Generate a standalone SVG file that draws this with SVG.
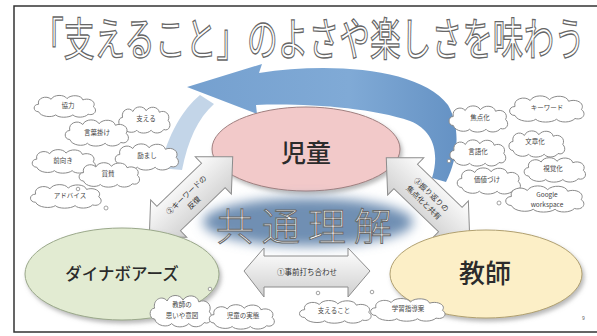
<svg xmlns="http://www.w3.org/2000/svg" xmlns:xlink="http://www.w3.org/1999/xlink" width="597" height="336" viewBox="0 0 597 336">
<style>
.ct{font-family:"Noto Sans CJK JP","Noto Sans",sans-serif;font-size:6.5px;fill:#444;text-anchor:middle}
.big{font-family:"Noto Sans CJK JP","Noto Sans",sans-serif;fill:#2b2b2b;text-anchor:middle;font-weight:500}
.arr{fill:url(#gArr);stroke:#8c8c8c;stroke-width:1}
.at{font-family:"Noto Sans CJK JP","Noto Sans",sans-serif;font-size:7.5px;fill:#333;text-anchor:middle}
.tail{fill:#fff;stroke:#8a8a8a;stroke-width:0.8}
</style>
<defs>
<symbol id="cloud" viewBox="0 0 100 40" preserveAspectRatio="none">
<path vector-effect="non-scaling-stroke" d="M10,30 C1,30 1,18 10,18 C7,8 22,3 29,10 C33,2 49,2 53,9 C59,2 75,3 77,11 C87,7 98,14 93,22 C100,27 95,37 85,34 C80,40 66,40 62,35 C56,40 40,40 36,35 C30,40 13,38 10,30 Z" style="fill:#fff;stroke:#8a8a8a;stroke-width:1"/>
</symbol>
<linearGradient id="gArr" x1="0" y1="0" x2="0" y2="1">
<stop offset="0" stop-color="#ffffff"/>
<stop offset="1" stop-color="#cfcfcf"/>
</linearGradient>
<linearGradient id="gBlue" x1="0" y1="0" x2="1" y2="0">
<stop offset="0" stop-color="#75a0cf"/>
<stop offset="0.6" stop-color="#80aad6"/>
<stop offset="1" stop-color="#6592c4"/>
</linearGradient>
<filter id="shadow" x="-10%" y="-10%" width="125%" height="130%">
<feDropShadow dx="2" dy="3" stdDeviation="2" flood-color="#888" flood-opacity="0.6"/>
</filter>
<filter id="blur" x="-20%" y="-50%" width="140%" height="200%">
<feGaussianBlur stdDeviation="6"/>
</filter>
</defs>

<rect width="597" height="336" fill="#fff"/>
<path d="M597,6 H14 V332 H597" fill="none" stroke="#333" stroke-width="1.5"/>

<g id="title">
<text transform="translate(33,56) scale(1,1.6)" textLength="552" lengthAdjust="spacingAndGlyphs" font-family="'Noto Sans CJK JP',sans-serif" font-size="28.5" fill="#fff" stroke="#666" stroke-width="0.8">「支えること」のよさや楽しさを味わう</text>
</g>

<g id="cycle">
<path d="M200,95 C182,110 168,135 160,168 L182,170 C188,140 198,118 214,104 Z" fill="#b4cbe2" opacity="0.8"/>
<path d="M187,87 L262,64 L259,73 C330,62 420,68 448,105 C462,130 457,160 446,182 L432,178 C440,152 433,130 410,121 C370,107 300,103 256,105 L257,114 Z" fill="url(#gBlue)"/>
</g>

<g id="clouds-left">
<use href="#cloud" x="32" y="93" width="66" height="25"/><text class="ct" x="68" y="108">協力</text>
<use href="#cloud" x="117" y="104" width="55" height="30"/><text class="ct" x="146" y="121">支える</text>
<use href="#cloud" x="63" y="117" width="68" height="30"/><text class="ct" x="97" y="135">言葉掛け</text>
<use href="#cloud" x="113" y="141" width="68" height="30"/><text class="ct" x="147" y="158">励まし</text>
<use href="#cloud" x="30" y="147" width="68" height="27"/><text class="ct" x="63" y="163">前向き</text>
<use href="#cloud" x="77" y="160" width="65" height="28"/><text class="ct" x="108" y="176">賞賛</text>
<use href="#cloud" x="28" y="182" width="76" height="27"/><text class="ct" x="70" y="198">アドバイス</text>
<circle class="tail" cx="106" cy="208" r="2"/>
<circle class="tail" cx="78" cy="189" r="1.8"/>
</g>

<g id="clouds-right">
<use href="#cloud" x="507" y="93" width="80" height="30"/><text class="ct" x="547" y="110">キーワード</text>
<use href="#cloud" x="447" y="103" width="63" height="30"/><text class="ct" x="480" y="120">焦点化</text>
<use href="#cloud" x="507" y="128" width="60" height="30"/><text class="ct" x="535" y="144">文章化</text>
<use href="#cloud" x="448" y="137" width="60" height="30"/><text class="ct" x="478" y="154">言語化</text>
<use href="#cloud" x="522" y="155" width="66" height="28"/><text class="ct" x="553" y="171">視覚化</text>
<use href="#cloud" x="455" y="165" width="68" height="30"/><text class="ct" x="487" y="182">価値づけ</text>
<use href="#cloud" x="503" y="183" width="84" height="30"/><text class="ct" x="547" y="197">Google</text><text class="ct" x="547" y="207">workspace</text>
<circle class="tail" cx="499" cy="203" r="2"/>
<circle class="tail" cx="449" cy="161" r="1.8"/>
</g>

<g id="node-jido">
<ellipse cx="306" cy="149" rx="94" ry="42" fill="#f2c9c9" stroke="#a08080" stroke-width="1" filter="url(#shadow)"/>
<text class="big" x="306" y="162" font-size="25">児童</text>
</g>

<g id="glow">
<ellipse cx="308" cy="222" rx="105" ry="24" fill="#6f8fb3" filter="url(#blur)"/>
</g>

<g id="connectors">
<g transform="translate(191,197) rotate(-44)">
<polygon class="arr" points="-58,0 -31,-26 -31,-17 31,-17 31,-26 58,0 31,26 31,17 -31,17 -31,26"/>
<text class="at" x="-2" y="-2">②キーワードの</text>
<text class="at" x="-2" y="9">反復</text>
</g>
<g transform="translate(428,198) rotate(44)">
<polygon class="arr" points="-58,0 -31,-26 -31,-17 31,-17 31,-26 58,0 31,26 31,17 -31,17 -31,26"/>
<text class="at" x="0" y="-2">③振り返りの</text>
<text class="at" x="0" y="9">焦点化と共有</text>
</g>
</g>

<g id="node-dyna">
<ellipse cx="122" cy="274" rx="97" ry="46" fill="#e2ebd2" stroke="#9aa88a" stroke-width="1" filter="url(#shadow)"/>
<text class="big" x="122" y="280" font-size="16.5">ダイナボアーズ</text>
</g>

<g id="node-kyoshi">
<ellipse cx="486" cy="274" rx="96" ry="44" fill="#fcefc7" stroke="#b0a070" stroke-width="1" filter="url(#shadow)"/>
<text class="big" x="485" y="283" font-size="26">教師</text>
</g>

<g id="connector-bottom">
<polygon class="arr" points="244,271 264,248 264,256 348,256 348,248 370,271 348,297 348,287 264,287 264,297"/>
<text class="at" x="307" y="275">①事前打ち合わせ</text>
</g>

<g id="kyotsu">
<text x="308" y="240" text-anchor="middle" font-family="'Noto Sans CJK JP','Noto Sans',sans-serif" font-size="38" font-weight="300" letter-spacing="8" fill="#fff" stroke="#6a6a6a" stroke-width="1">共通理解</text>
</g>

<g id="clouds-bottom">
<use href="#cloud" x="148" y="292" width="66" height="36"/><text class="ct" x="182" y="307">教師の</text><text class="ct" x="182" y="318">思いや意図</text>
<use href="#cloud" x="207" y="302" width="70" height="28"/><text class="ct" x="243" y="318">児童の実態</text>
<use href="#cloud" x="297" y="298" width="77" height="26"/><text class="ct" x="334" y="313">支えること</text>
<use href="#cloud" x="368" y="296" width="80" height="26"/><text class="ct" x="408" y="311">学習指導案</text>
<circle class="tail" cx="210" cy="289" r="1.8"/>
<circle class="tail" cx="318" cy="293" r="1.8"/>
<circle class="tail" cx="372" cy="292" r="1.8"/>
</g>

<text x="582" y="320" font-family="'Liberation Sans',sans-serif" font-size="5" fill="#666">9</text>
</svg>
